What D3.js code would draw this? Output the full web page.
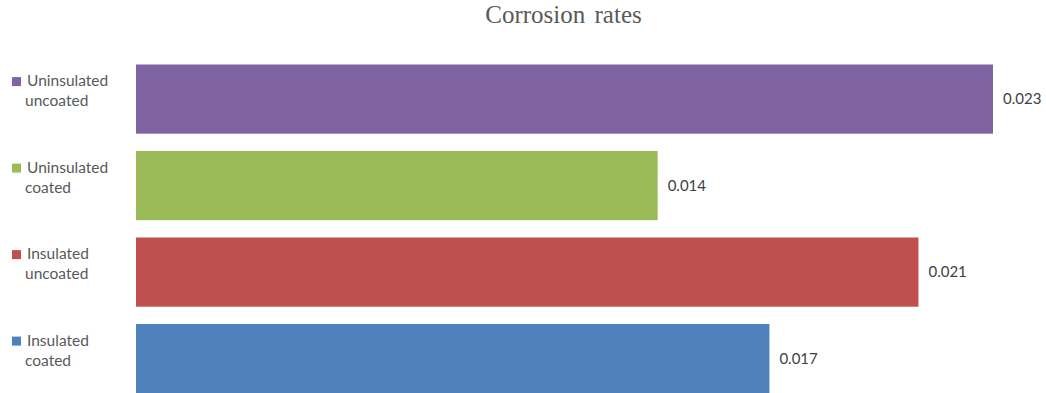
<!DOCTYPE html>
<html>
<head>
<meta charset="utf-8">
<script src="https://cdn.jsdelivr.net/npm/d3@7"></script>
<style>
  html, body { margin: 0; padding: 0; background: #fff; }
  svg { display: block; }
</style>
</head>
<body>
<svg id="chart" width="1046" height="393"></svg>
<script>
// Corrosion rate per condition, listed top to bottom
const categories = ["Uninsulated uncoated", "Uninsulated coated", "Insulated uncoated", "Insulated coated"];
const legendLines = [["Uninsulated", "uncoated"], ["Uninsulated", "coated"], ["Insulated", "uncoated"], ["Insulated", "coated"]];
const rates = [0.023, 0.014, 0.021, 0.017];
const labels = ["0.023", "0.014", "0.021", "0.017"];
const colors = ["#8064A2", "#9BBB59", "#C0504D", "#4F81BD"];

const svg = d3.select("#chart");

const x = d3.scaleLinear().domain([0, 0.023]).range([136, 993]);
const y = d3.scaleBand().domain(categories).range([55.85, 401.85])
  .paddingInner(0.2).paddingOuter(0.1);

// Title
svg.append("text")
  .attr("x", 563.5).attr("y", 23)
  .attr("text-anchor", "middle")
  .attr("font-family", "'Liberation Serif', 'Times New Roman', serif")
  .attr("font-size", 25)
  .attr("word-spacing", 3)
  .attr("fill", "#595959")
  .text("Corrosion rates");

// Bars
svg.append("g").selectAll("rect")
  .data(categories)
  .join("rect")
  .attr("x", x(0))
  .attr("y", d => y(d))
  .attr("width", (d, i) => x(rates[i]) - x(0))
  .attr("height", y.bandwidth())
  .attr("fill", (d, i) => colors[i]);

// Value labels
svg.append("g").selectAll("text")
  .data(categories)
  .join("text")
  .attr("x", (d, i) => x(rates[i]) + 10)
  .attr("y", d => y(d) + y.bandwidth() / 2 + 5)
  .attr("font-family", "Lato, 'Open Sans', sans-serif")
  .attr("font-size", 15)
  .attr("fill", "#404040")
  .text((d, i) => labels[i]);

// Legend
const legend = svg.append("g").selectAll("g")
  .data(categories)
  .join("g")
  .attr("transform", d => `translate(0, ${y(d) + y.bandwidth() / 2})`);

legend.append("rect")
  .attr("x", 12).attr("y", -22)
  .attr("width", 9).attr("height", 9)
  .attr("fill", (d, i) => colors[i]);

legend.append("text")
  .attr("font-family", "Lato, 'Open Sans', sans-serif")
  .attr("font-size", 15.5)
  .attr("fill", "#595959")
  .selectAll("tspan")
  .data((d, i) => legendLines[i])
  .join("tspan")
  .attr("x", (d, j) => j === 0 ? 27 : 25)
  .attr("y", (d, j) => -13 + j * 20)
  .text(d => d);
</script>
</body>
</html>
